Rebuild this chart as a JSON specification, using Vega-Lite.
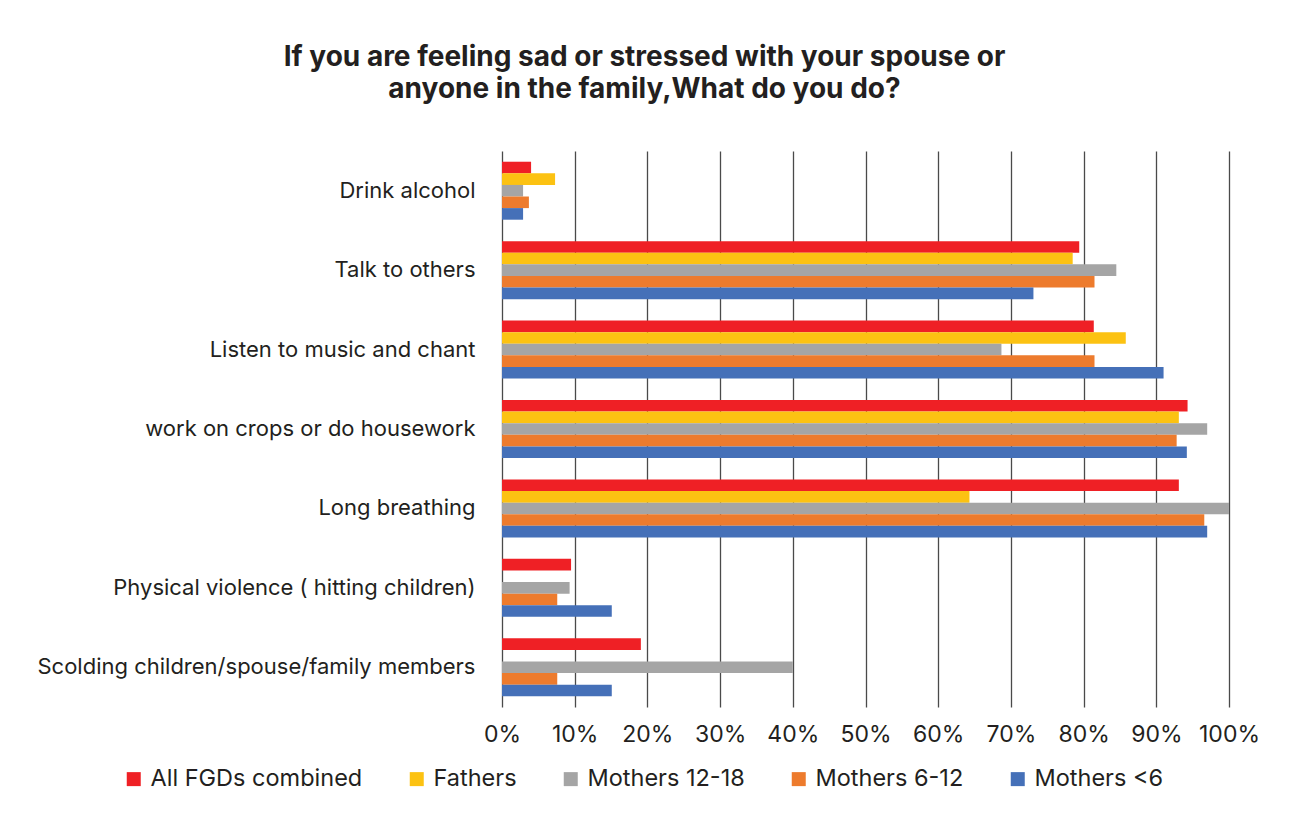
{
  "$schema": "https://vega.github.io/schema/vega-lite/v6.json",
  "width": 727,
  "height": 556,
  "autosize": {"type": "none"},
  "padding": {"left": 502, "top": 151, "right": 61, "bottom": 109},
  "background": "#ffffff",
  "title": {
    "text": ["If you are feeling sad or stressed with your spouse or", "anyone in the family,What do you do?"],
    "font": "Inter",
    "fontSize": 28,
    "fontWeight": "bold",
    "color": "#231f20",
    "lineHeight": 32,
    "anchor": "middle",
    "frame": "group",
    "dx": -221,
    "offset": 47
  },
  "data": {
    "values": [
      {"activity": "Drink alcohol", "group": "All FGDs combined", "share": 0.04},
      {"activity": "Drink alcohol", "group": "Fathers", "share": 0.073},
      {"activity": "Drink alcohol", "group": "Mothers 12-18", "share": 0.029},
      {"activity": "Drink alcohol", "group": "Mothers 6-12", "share": 0.037},
      {"activity": "Drink alcohol", "group": "Mothers <6", "share": 0.029},
      {"activity": "Talk to others", "group": "All FGDs combined", "share": 0.794},
      {"activity": "Talk to others", "group": "Fathers", "share": 0.785},
      {"activity": "Talk to others", "group": "Mothers 12-18", "share": 0.845},
      {"activity": "Talk to others", "group": "Mothers 6-12", "share": 0.815},
      {"activity": "Talk to others", "group": "Mothers <6", "share": 0.731},
      {"activity": "Listen to music and chant", "group": "All FGDs combined", "share": 0.814},
      {"activity": "Listen to music and chant", "group": "Fathers", "share": 0.858},
      {"activity": "Listen to music and chant", "group": "Mothers 12-18", "share": 0.687},
      {"activity": "Listen to music and chant", "group": "Mothers 6-12", "share": 0.815},
      {"activity": "Listen to music and chant", "group": "Mothers <6", "share": 0.91},
      {"activity": "work on crops or do housework", "group": "All FGDs combined", "share": 0.943},
      {"activity": "work on crops or do housework", "group": "Fathers", "share": 0.931},
      {"activity": "work on crops or do housework", "group": "Mothers 12-18", "share": 0.97},
      {"activity": "work on crops or do housework", "group": "Mothers 6-12", "share": 0.928},
      {"activity": "work on crops or do housework", "group": "Mothers <6", "share": 0.942},
      {"activity": "Long breathing", "group": "All FGDs combined", "share": 0.931},
      {"activity": "Long breathing", "group": "Fathers", "share": 0.643},
      {"activity": "Long breathing", "group": "Mothers 12-18", "share": 1.0},
      {"activity": "Long breathing", "group": "Mothers 6-12", "share": 0.966},
      {"activity": "Long breathing", "group": "Mothers <6", "share": 0.97},
      {"activity": "Physical violence ( hitting children)", "group": "All FGDs combined", "share": 0.095},
      {"activity": "Physical violence ( hitting children)", "group": "Fathers", "share": 0},
      {"activity": "Physical violence ( hitting children)", "group": "Mothers 12-18", "share": 0.093},
      {"activity": "Physical violence ( hitting children)", "group": "Mothers 6-12", "share": 0.076},
      {"activity": "Physical violence ( hitting children)", "group": "Mothers <6", "share": 0.151},
      {"activity": "Scolding children/spouse/family members", "group": "All FGDs combined", "share": 0.191},
      {"activity": "Scolding children/spouse/family members", "group": "Fathers", "share": 0},
      {"activity": "Scolding children/spouse/family members", "group": "Mothers 12-18", "share": 0.40},
      {"activity": "Scolding children/spouse/family members", "group": "Mothers 6-12", "share": 0.076},
      {"activity": "Scolding children/spouse/family members", "group": "Mothers <6", "share": 0.151}
    ]
  },
  "mark": {"type": "bar"},
  "encoding": {
    "y": {
      "field": "activity",
      "type": "nominal",
      "sort": null,
      "scale": {"paddingInner": 0.27, "paddingOuter": 0.135},
      "axis": {
        "title": null,
        "ticks": false,
        "domain": false,
        "labelPadding": 27,
        "labelFont": "Inter",
        "labelFontSize": 22,
        "labelColor": "#231f20",
        "labelLimit": 600
      }
    },
    "yOffset": {
      "field": "group",
      "type": "nominal",
      "sort": ["All FGDs combined", "Fathers", "Mothers 12-18", "Mothers 6-12", "Mothers <6"],
      "scale": {"paddingInner": 0, "paddingOuter": 0}
    },
    "x": {
      "field": "share",
      "type": "quantitative",
      "scale": {"domain": [0, 1], "nice": false},
      "axis": {
        "title": null,
        "values": [0, 0.1, 0.2, 0.3, 0.4, 0.5, 0.6, 0.7, 0.8, 0.9, 1.0],
        "format": ".0%",
        "ticks": false,
        "domain": false,
        "grid": true,
        "gridColor": "#4a4a4a",
        "gridWidth": 1.3,
        "labelPadding": 16,
        "labelFont": "Inter",
        "labelFontSize": 23,
        "labelColor": "#231f20",
        "labelFlush": false
      }
    },
    "color": {
      "field": "group",
      "type": "nominal",
      "scale": {
        "domain": ["All FGDs combined", "Fathers", "Mothers 12-18", "Mothers 6-12", "Mothers <6"],
        "range": ["#ef2025", "#fcc212", "#a5a5a5", "#ed7b2d", "#4570b8"]
      },
      "legend": {
        "title": null,
        "orient": "none",
        "direction": "horizontal",
        "columns": 5,
        "legendX": -380,
        "legendY": 616,
        "symbolType": "square",
        "symbolSize": 196,
        "symbolStrokeWidth": 0,
        "symbolOpacity": 1,
        "labelFont": "Inter",
        "labelFontSize": 23.5,
        "labelColor": "#231f20",
        "labelOffset": 5,
        "labelLimit": 400,
        "columnPadding": 42
      }
    }
  },
  "config": {
    "view": {"stroke": null},
    "axis": {"gridOpacity": 1}
  }
}
